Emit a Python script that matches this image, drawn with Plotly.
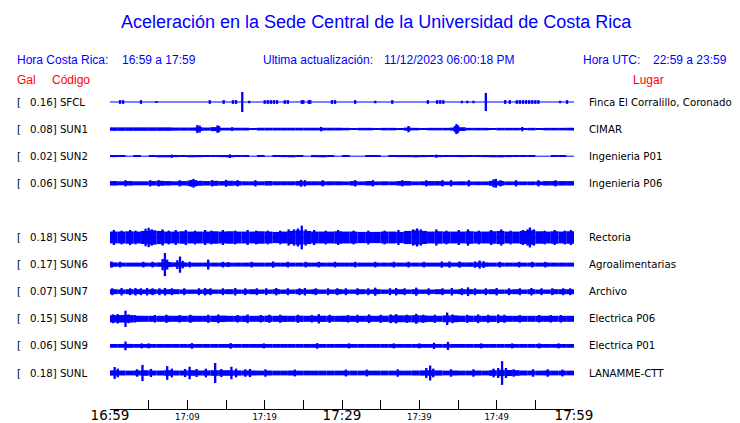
import plotly.graph_objects as go

# ---------------- data ----------------
STATIONS = ["SFCL", "SUN1", "SUN2", "SUN3", "SUN5", "SUN6", "SUN7", "SUN8", "SUN9", "SUNL"]
PEAK_GAL = [0.16, 0.08, 0.02, 0.06, 0.18, 0.17, 0.07, 0.15, 0.06, 0.18]
PLACES = ["Finca El Corralillo, Coronado", "CIMAR", "Ingenieria P01", "Ingenieria P06",
          "Rectoria", "Agroalimentarias", "Archivo", "Electrica P06", "Electrica P01", "LANAMME-CTT"]

TICK_MINUTES = [0, 5, 10, 15, 20, 25, 30, 35, 40, 45, 50, 55, 60]
TICK_LABELS = ["16:59", "", "17:09", "", "17:19", "", "17:29", "", "17:39", "", "17:49", "", "17:59"]
BIG_TICKS = ["16:59", "17:29", "17:59"]

# per-minute background half-amplitude (Gal), 60 minutes 16:59 -> 17:59
ENV_SFCL = [0, 0, 0, 0, 0, 0, 0, 0, 0, 0, 0, 0, 0, 0, 0, 0, 0, 0, 0, 0,
            0, 0, 0, 0, 0, 0, 0, 0, 0, 0, 0, 0, 0, 0, 0, 0, 0, 0, 0, 0,
            0, 0, 0, 0, 0, 0, 0, 0, 0, 0, 0, 0, 0, 0, 0, 0, 0, 0, 0, 0]
ENV_SUN1 = [0.028, 0.028, 0.028, 0.028, 0.028, 0.028, 0.028, 0.028, 0.025, 0.025,
            0.025, 0.03, 0.025, 0.032, 0.022, 0.022, 0.022, 0.022, 0.012, 0.022,
            0.022, 0.022, 0.022, 0.022, 0.022, 0.022, 0.022, 0.022, 0.022, 0.022,
            0.02, 0.012, 0.02, 0.02, 0.012, 0.02, 0.02, 0.015, 0.025, 0.02,
            0.012, 0.02, 0.02, 0.02, 0.025, 0.03, 0.02, 0.02, 0.02, 0.012,
            0.02, 0.02, 0.02, 0.012, 0.02, 0.012, 0.02, 0.02, 0.02, 0.022]
ENV_SUN2 = [0.015, 0.01, 0, 0.01, 0, 0.01, 0.018, 0.018, 0.015, 0.01,
            0.018, 0.015, 0.01, 0.012, 0.015, 0.018, 0.01, 0.01, 0, 0.01,
            0, 0.01, 0.015, 0.018, 0.01, 0, 0.015, 0.018, 0.01, 0,
            0.005, 0, 0, 0.01, 0.005, 0, 0.005, 0.015, 0.015, 0.018,
            0.015, 0.005, 0.015, 0.01, 0.01, 0.015, 0.01, 0.012, 0.015, 0.018,
            0.018, 0.015, 0.005, 0.005, 0.005, 0, 0, 0.01, 0.01, 0]
ENV_SUN3 = [0.036, 0.032, 0.036, 0.032, 0.032, 0.036, 0.04, 0.036, 0.032, 0.036,
            0.045, 0.04, 0.036, 0.04, 0.036, 0.04, 0.036, 0.032, 0.032, 0.032,
            0.036, 0.032, 0.032, 0.032, 0.036, 0.032, 0.032, 0.032, 0.032, 0.032,
            0.03, 0.036, 0.03, 0.036, 0.03, 0.032, 0.03, 0.036, 0.036, 0.03,
            0.032, 0.036, 0.036, 0.03, 0.03, 0.032, 0.03, 0.03, 0.03, 0.04,
            0.036, 0.03, 0.03, 0.03, 0.03, 0.03, 0.036, 0.036, 0.036, 0.036]
ENV_SUN5 = [0.095, 0.095, 0.1, 0.095, 0.105, 0.115, 0.105, 0.095, 0.095, 0.1,
            0.095, 0.095, 0.095, 0.1, 0.095, 0.1, 0.095, 0.095, 0.095, 0.1,
            0.095, 0.09, 0.095, 0.105, 0.115, 0.105, 0.095, 0.095, 0.095, 0.1,
            0.095, 0.095, 0.09, 0.09, 0.09, 0.095, 0.095, 0.09, 0.105, 0.115,
            0.105, 0.095, 0.1, 0.095, 0.095, 0.095, 0.1, 0.095, 0.095, 0.1,
            0.105, 0.095, 0.095, 0.105, 0.115, 0.1, 0.095, 0.1, 0.095, 0.1]
ENV_SUN6 = [0.035, 0.032, 0.032, 0.032, 0.032, 0.032, 0.035, 0.04, 0.035, 0.035,
            0.032, 0.032, 0.032, 0.032, 0.032, 0.032, 0.032, 0.032, 0.032, 0.032,
            0.032, 0.032, 0.032, 0.032, 0.032, 0.032, 0.032, 0.032, 0.032, 0.032,
            0.032, 0.032, 0.032, 0.032, 0.032, 0.032, 0.032, 0.032, 0.032, 0.032,
            0.032, 0.032, 0.032, 0.032, 0.032, 0.035, 0.035, 0.036, 0.035, 0.032,
            0.032, 0.032, 0.032, 0.032, 0.032, 0.032, 0.032, 0.032, 0.032, 0.032]
ENV_SUN7 = [0.04, 0.035, 0.04, 0.04, 0.035, 0.04, 0.035, 0.04, 0.04, 0.035,
            0.035, 0.035, 0.04, 0.035, 0.035, 0.04, 0.035, 0.035, 0.04, 0.035,
            0.035, 0.04, 0.035, 0.035, 0.04, 0.035, 0.04, 0.035, 0.035, 0.04,
            0.035, 0.035, 0.04, 0.035, 0.04, 0.035, 0.035, 0.04, 0.035, 0.04,
            0.035, 0.035, 0.04, 0.035, 0.035, 0.04, 0.04, 0.035, 0.035, 0.04,
            0.035, 0.035, 0.04, 0.035, 0.04, 0.035, 0.035, 0.04, 0.04, 0.04]
ENV_SUN8 = [0.058, 0.06, 0.06, 0.05, 0.048, 0.048, 0.048, 0.05, 0.048, 0.048,
            0.05, 0.048, 0.048, 0.05, 0.052, 0.048, 0.048, 0.05, 0.048, 0.048,
            0.05, 0.048, 0.05, 0.048, 0.05, 0.048, 0.048, 0.05, 0.048, 0.048,
            0.05, 0.048, 0.048, 0.05, 0.048, 0.05, 0.055, 0.055, 0.055, 0.058,
            0.055, 0.05, 0.048, 0.055, 0.055, 0.05, 0.05, 0.05, 0.048, 0.05,
            0.05, 0.048, 0.048, 0.048, 0.048, 0.048, 0.048, 0.048, 0.048, 0.048]
ENV_SUN9 = [0.03, 0.03, 0.032, 0.03, 0.03, 0.03, 0.03, 0.03, 0.03, 0.03,
            0.03, 0.03, 0.03, 0.03, 0.03, 0.03, 0.03, 0.03, 0.03, 0.03,
            0.03, 0.03, 0.03, 0.03, 0.03, 0.03, 0.03, 0.03, 0.03, 0.03,
            0.03, 0.03, 0.03, 0.03, 0.03, 0.03, 0.03, 0.03, 0.03, 0.03,
            0.03, 0.03, 0.03, 0.03, 0.03, 0.03, 0.03, 0.03, 0.03, 0.03,
            0.03, 0.03, 0.03, 0.03, 0.03, 0.03, 0.03, 0.03, 0.03, 0.03]
ENV_SUNL = [0.042, 0.04, 0.038, 0.04, 0.045, 0.04, 0.04, 0.045, 0.04, 0.04,
            0.045, 0.04, 0.042, 0.045, 0.045, 0.045, 0.042, 0.04, 0.04, 0.038,
            0.04, 0.038, 0.038, 0.04, 0.038, 0.038, 0.038, 0.038, 0.038, 0.038,
            0.038, 0.038, 0.038, 0.038, 0.038, 0.038, 0.038, 0.038, 0.038, 0.04,
            0.042, 0.045, 0.042, 0.038, 0.04, 0.038, 0.038, 0.04, 0.038, 0.045,
            0.05, 0.048, 0.045, 0.04, 0.038, 0.038, 0.04, 0.038, 0.038, 0.038]

# transient peaks: minute after 16:59 and half-amplitude (Gal)
SPK_SFCL_T = [1.3, 1.7, 4.0, 6.0, 12.9, 14.7, 15.9, 16.3, 17.1, 18.0, 20.0, 20.4, 20.8, 21.2, 21.6,
              22.6, 23.0, 24.8, 25.0, 25.9, 25.7, 28.7, 29.1, 31.7, 34.3, 36.5, 41.1, 42.3, 42.7,
              43.1, 45.5, 46.2, 47.0, 48.6, 51.1, 51.7, 52.6, 53.0, 53.4, 53.8, 54.2, 54.6, 55.0,
              55.4, 58.2, 59.1]
SPK_SFCL_A = [0.03, 0.03, 0.03, 0.015, 0.03, 0.03, 0.03, 0.03, 0.16, 0.02, 0.03, 0.03, 0.03, 0.03, 0.03,
              0.03, 0.03, 0.03, 0.03, 0.03, 0.03, 0.03, 0.03, 0.03, 0.02, 0.03, 0.03, 0.03, 0.03,
              0.03, 0.02, 0.02, 0.02, 0.145, 0.03, 0.03, 0.03, 0.03, 0.03, 0.03, 0.03, 0.03, 0.03,
              0.03, 0.02, 0.03]
SPK_SUN1_T = [11.3, 11.6, 13.9, 14.1, 15.8, 27.3, 38.6, 44.6, 44.8, 45.0, 53.3]
SPK_SUN1_A = [0.065, 0.055, 0.06, 0.05, 0.03, 0.035, 0.05, 0.05, 0.08, 0.06, 0.035]
SPK_SUN2_T = [8.0, 15.5, 42.2]
SPK_SUN2_A = [0.025, 0.03, 0.025]
SPK_SUN3_T = [2.0, 5.2, 6.3, 9.0, 10.5, 10.8, 11.1, 13.2, 15.0, 16.5, 18.8, 24.7, 25.2, 27.5,
              31.7, 34.0, 37.8, 40.9, 43.0, 44.1, 46.4, 49.6, 49.9, 50.5, 52.5, 55.4, 57.6]
SPK_SUN3_A = [0.05, 0.05, 0.05, 0.05, 0.055, 0.07, 0.05, 0.05, 0.055, 0.05, 0.05, 0.055, 0.05, 0.05,
              0.05, 0.05, 0.05, 0.05, 0.05, 0.05, 0.05, 0.065, 0.07, 0.05, 0.05, 0.05, 0.05]
SPK_SUN5_T = [0.5, 1.5, 2.6, 3.3, 4.6, 5.0, 5.4, 6.8, 7.6, 8.5, 9.8, 11.0, 12.3, 13.1, 14.6, 16.2,
              17.8, 18.9, 20.4, 22.0, 23.1, 23.8, 24.3, 24.8, 25.3, 26.4, 27.9, 29.5, 31.5, 33.4,
              35.5, 37.3, 39.2, 39.7, 40.2, 42.2, 43.5, 45.1, 46.3, 47.7, 49.3, 50.6, 51.8, 53.4,
              54.0, 54.3, 54.8, 56.2, 57.5, 58.8, 59.6]
SPK_SUN5_A = [0.12, 0.11, 0.12, 0.11, 0.14, 0.155, 0.13, 0.13, 0.11, 0.12, 0.12, 0.11, 0.12, 0.11,
              0.12, 0.11, 0.12, 0.11, 0.11, 0.11, 0.13, 0.13, 0.145, 0.19, 0.13, 0.12, 0.11, 0.12,
              0.11, 0.11, 0.11, 0.12, 0.13, 0.145, 0.13, 0.13, 0.11, 0.12, 0.13, 0.11, 0.12, 0.13,
              0.11, 0.12, 0.13, 0.16, 0.13, 0.11, 0.12, 0.11, 0.12]
SPK_SUN6_T = [0.2, 1.3, 4.3, 5.5, 6.8, 7.1, 7.4, 8.7, 9.05, 9.4, 10.3, 12.7, 14.6, 15.3, 18.3, 21.1,
              23.0, 25.3, 27.0, 29.1, 31.7, 34.3, 36.7, 38.6, 40.6, 42.9, 43.9, 45.2, 47.2, 47.8,
              48.3, 50.4, 52.9, 54.6, 56.3]
SPK_SUN6_A = [0.05, 0.045, 0.045, 0.045, 0.09, 0.185, 0.08, 0.07, 0.13, 0.06, 0.045, 0.08, 0.045, 0.04,
              0.045, 0.05, 0.045, 0.045, 0.045, 0.045, 0.045, 0.045, 0.045, 0.045, 0.045, 0.05, 0.05,
              0.05, 0.05, 0.065, 0.055, 0.045, 0.045, 0.045, 0.045]
SPK_SUN7_T = [0.3, 1.5, 2.6, 3.3, 4.0, 4.8, 5.5, 6.4, 7.1, 8.0, 9.6, 11.5, 12.3, 13.0, 14.6, 16.2,
              17.5, 19.0, 20.2, 21.5, 23.0, 24.5, 25.2, 26.6, 28.2, 29.4, 30.5, 32.0, 33.4, 34.3,
              36.2, 37.0, 38.1, 39.6, 41.2, 43.0, 44.2, 45.5, 46.3, 47.2, 48.6, 50.0, 51.6, 53.0,
              54.5, 55.8, 57.2, 58.6, 59.5]
SPK_SUN7_A = [0.055, 0.06, 0.055, 0.06, 0.055, 0.06, 0.055, 0.055, 0.06, 0.055, 0.055, 0.055, 0.06,
              0.055, 0.055, 0.06, 0.055, 0.055, 0.055, 0.06, 0.055, 0.055, 0.06, 0.055, 0.055, 0.055,
              0.055, 0.055, 0.055, 0.065, 0.055, 0.06, 0.055, 0.065, 0.055, 0.055, 0.06, 0.055,
              0.07, 0.055, 0.055, 0.06, 0.055, 0.055, 0.06, 0.055, 0.055, 0.055, 0.055]
SPK_SUN8_T = [0.4, 1.0, 2.0, 2.4, 3.2, 5.8, 7.3, 9.0, 10.4, 12.7, 14.0, 16.5, 17.8, 19.5, 20.6, 22.0,
              24.3, 26.1, 27.0, 28.4, 30.8, 32.0, 33.5, 35.0, 36.3, 37.0, 38.4, 39.6, 40.5, 42.0,
              43.6, 44.3, 46.2, 47.6, 48.9, 50.2, 51.0, 53.0, 55.5, 57.0, 58.3]
SPK_SUN8_A = [0.07, 0.075, 0.13, 0.07, 0.06, 0.06, 0.065, 0.06, 0.065, 0.065, 0.07, 0.06, 0.07, 0.06,
              0.065, 0.065, 0.065, 0.06, 0.075, 0.065, 0.06, 0.065, 0.07, 0.065, 0.07, 0.075, 0.065,
              0.08, 0.065, 0.065, 0.1, 0.07, 0.065, 0.07, 0.065, 0.07, 0.065, 0.06, 0.06, 0.06, 0.06]
SPK_SUN9_T = [2.0, 4.1, 5.0, 10.6, 15.6, 19.9, 26.8, 30.9, 36.7, 40.0, 41.9, 43.7, 48.0, 52.0, 55.5, 58.0]
SPK_SUN9_A = [0.07, 0.04, 0.04, 0.045, 0.045, 0.04, 0.045, 0.04, 0.04, 0.04, 0.05, 0.065, 0.04, 0.04,
              0.04, 0.04]
SPK_SUNL_T = [0.6, 1.0, 3.5, 4.2, 5.3, 7.4, 8.0, 9.7, 10.3, 11.2, 12.4, 13.6, 14.4, 15.7, 16.3, 17.5,
              18.1, 20.1, 23.9, 30.5, 33.2, 37.2, 40.9, 41.4, 41.8, 44.1, 47.0, 49.6, 50.2, 50.7,
              51.2, 52.2, 54.7, 56.6, 58.5]
SPK_SUNL_A = [0.095, 0.07, 0.06, 0.13, 0.065, 0.11, 0.07, 0.065, 0.1, 0.065, 0.07, 0.16, 0.065, 0.1,
              0.07, 0.06, 0.065, 0.06, 0.055, 0.055, 0.055, 0.06, 0.08, 0.12, 0.07, 0.06, 0.06, 0.07,
              0.08, 0.19, 0.08, 0.06, 0.06, 0.06, 0.055]

ENVS = [ENV_SFCL, ENV_SUN1, ENV_SUN2, ENV_SUN3, ENV_SUN5, ENV_SUN6, ENV_SUN7, ENV_SUN8, ENV_SUN9, ENV_SUNL]
SPK_T = [SPK_SFCL_T, SPK_SUN1_T, SPK_SUN2_T, SPK_SUN3_T, SPK_SUN5_T, SPK_SUN6_T, SPK_SUN7_T,
         SPK_SUN8_T, SPK_SUN9_T, SPK_SUNL_T]
SPK_A = [SPK_SFCL_A, SPK_SUN1_A, SPK_SUN2_A, SPK_SUN3_A, SPK_SUN5_A, SPK_SUN6_A, SPK_SUN7_A,
         SPK_SUN8_A, SPK_SUN9_A, SPK_SUNL_A]

# ---------------- layout constants ----------------
W, H = 740, 423
PL, PR, PT, PB = 110, 574, 85, 409          # plot area in pixels
ROW0_PX, ROW_PX = 102, 27.1                 # first trace centre, trace spacing
GAL_PER_PX = 0.016
GAL_PER_ROW = GAL_PER_PX * ROW_PX
GAP_AFTER = 4                                # empty slot after the 4th station
BLUE = "#0000FF"
RED = "#FF0000"
HFONT = "Liberation Sans, Arial, sans-serif"
LFONT = "DejaVu Sans, sans-serif"

def slot(i):
    return i if i < GAP_AFTER else i + 1

y_top = (PT - ROW0_PX) / ROW_PX
y_bot = (PB - ROW0_PX) / ROW_PX

fig = go.Figure()

# centre lines
lx, ly = [], []
for i in range(len(STATIONS)):
    lx += [0, 60, None]
    ly += [slot(i), slot(i), None]
fig.add_trace(go.Scatter(x=lx, y=ly, mode="lines", line=dict(color=BLUE, width=1),
                         hoverinfo="skip", showlegend=False))

for i, st in enumerate(STATIONS):
    r = slot(i)
    env = ENVS[i]
    xs = [m + 0.5 for m in range(len(env))]
    h = [2 * a / GAL_PER_ROW for a in env]
    b = [r - a / GAL_PER_ROW for a in env]
    fig.add_trace(go.Bar(x=xs, y=h, base=b, width=1.0, marker=dict(color=BLUE, line=dict(width=0)),
                         showlegend=False, hoverinfo="skip"))
    ts, As = SPK_T[i], SPK_A[i]
    fig.add_trace(go.Bar(x=ts, y=[2 * a / GAL_PER_ROW for a in As],
                         base=[r - a / GAL_PER_ROW for a in As], width=0.3,
                         marker=dict(color=BLUE, line=dict(width=0)),
                         showlegend=False, hoverinfo="skip"))

ticktext = [("<span style='font-size:13.5px'>%s</span>" % t) if t in BIG_TICKS else t
            for t in TICK_LABELS]

fig.update_layout(
    width=W, height=H, autosize=False,
    margin=dict(l=PL, r=W - PR, t=PT, b=H - PB, pad=0),
    paper_bgcolor="white", plot_bgcolor="white",
    barmode="overlay", showlegend=False,
    xaxis=dict(range=[0, 60], tickmode="array", tickvals=TICK_MINUTES, ticktext=ticktext,
               ticks="inside", ticklen=9, tickwidth=1, tickcolor="black",
               showline=True, linecolor="black", linewidth=1, showgrid=False, zeroline=False,
               tickfont=dict(family=LFONT, size=8.5, color="black"), automargin=False,
               fixedrange=True),
    yaxis=dict(range=[y_bot, y_top], visible=False, showgrid=False, zeroline=False,
               automargin=False, fixedrange=True),
)

def px_x(px):
    return (px - PL) / (PR - PL)

def px_y(py):
    return (PB - py) / (PB - PT)

ann = []
def text(px, py, s, size, color, font, anchor="left"):
    ann.append(dict(x=px_x(px), y=px_y(py), xref="paper", yref="paper", text=s, showarrow=False,
                    xanchor=anchor, yanchor="middle", font=dict(family=font, size=size, color=color)))

text(376, 22, "Aceleración en la Sede Central de la Universidad de Costa Rica", 18, BLUE, HFONT, "center")
text(15, 60, "Hora Costa Rica:", 12, BLUE, HFONT)
text(120, 60, "16:59 a 17:59", 12, BLUE, HFONT)
text(261, 60, "Ultima actualización:", 12, BLUE, HFONT)
text(382, 60, "11/12/2023 06:00:18 PM", 12, BLUE, HFONT)
text(581, 60, "Hora UTC:", 12, BLUE, HFONT)
text(651, 60, "22:59 a 23:59", 12, BLUE, HFONT)
text(15, 80, "Gal", 12, RED, HFONT)
text(50, 80, "Código", 12, RED, HFONT)
text(631, 80, "Lugar", 12, RED, HFONT)

for i, st in enumerate(STATIONS):
    py = ROW0_PX + slot(i) * ROW_PX
    text(15, py, "[", 10.2, "black", LFONT)
    text(28, py, "%.2f] %s" % (PEAK_GAL[i], st), 10.2, "black", LFONT)
    text(587, py, PLACES[i], 10.2, "black", LFONT)

fig.update_layout(annotations=ann)
fig.write_html("out.html", config={"displayModeBar": False},
               post_script="document.body.style.margin='0px';")
